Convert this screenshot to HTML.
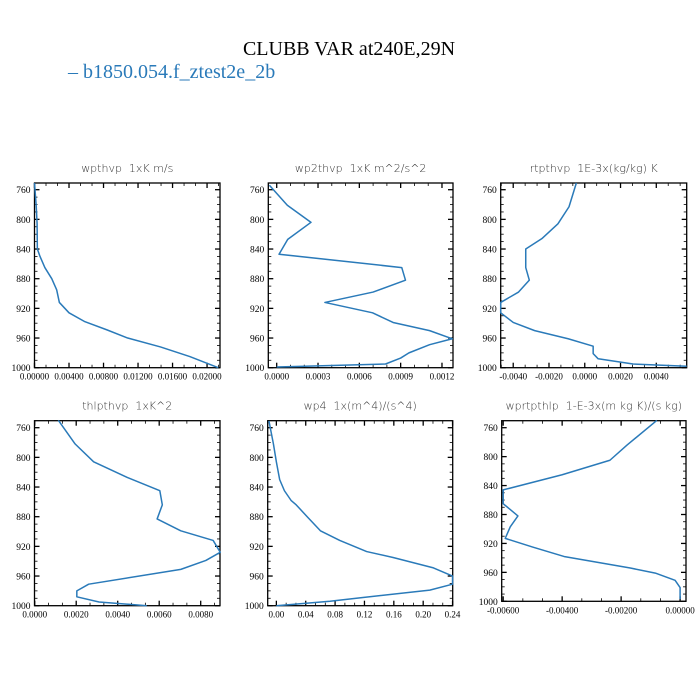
<!DOCTYPE html>
<html><head><meta charset="utf-8"><style>
html,body{margin:0;padding:0;background:#fff;}
svg{display:block;}
</style></head><body>
<svg id="chart" width="700" height="700" viewBox="0 0 700 700" xmlns="http://www.w3.org/2000/svg">
<rect x="0" y="0" width="700" height="700" fill="#fff"/>
<text x="349" y="55" text-anchor="middle" font-family="Liberation Serif, serif" font-size="20" fill="#000">CLUBB VAR at240E,29N</text>
<text x="68" y="78" font-family="Liberation Serif, serif" font-size="20" fill="#2a7ab9">– b1850.054.f_ztest2e_2b</text>
<g id="panels"></g>
</svg>
<script>
// ---- data ----
const p1 = [751, 782, 806, 840, 850, 865, 880, 895, 912, 926, 938, 949, 960, 972, 985, 1000];
const v1 = [0, 0.0002, 0.0003, 0.00033, 0.00064, 0.0012, 0.002, 0.00257, 0.00288, 0.004, 0.00585, 0.0084, 0.0108, 0.0146, 0.018, 0.0213];
const p2 = [754, 781, 804, 827, 847, 865, 882, 898, 912, 926, 939, 950, 961, 969, 980, 987, 995, 999];
const v2 = [-0.000053, 0.000077, 0.000249, 0.00008, 0.000017, 0.000908, 0.000935, 0.0007, 0.00035, 0.000696, 0.000845, 0.00111, 0.001275, 0.00111, 0.00096, 0.0009, 0.00079, 0.0];
const p3 = [751, 783, 806, 826, 840, 865, 882, 898, 912, 926, 939, 950, 961, 971, 981, 988, 995, 998];
const v3 = [-0.00047, -0.00088, -0.0015, -0.0024, -0.0033, -0.0033, -0.0031, -0.0037, -0.0047, -0.0047, -0.004, -0.0028, -0.00093, 0.00047, 0.00047, 0.00075, 0.0027, 0.0057];
const p4 = [750, 782, 806, 827, 845, 864, 883, 899, 912, 928, 939, 951, 971, 980, 988, 995, 1000];
const v4 = [0.00114, 0.00195, 0.00284, 0.00446, 0.00603, 0.00615, 0.0059, 0.00704, 0.0086, 0.00894, 0.00825, 0.00704, 0.0026, 0.00203, 0.00203, 0.0031, 0.0054];
const p5 = [751, 782, 806, 830, 845, 858, 864, 880, 899, 912, 927, 935, 949, 960, 971, 979, 989, 994, 1000];
const v5 = [-0.0101, -0.004, 0.0, 0.0045, 0.011, 0.02, 0.027, 0.042, 0.06, 0.0864, 0.123, 0.159, 0.214, 0.24, 0.24, 0.209, 0.118, 0.073, 0.0];
const p6 = [750, 784, 805, 825, 846, 865, 882, 897, 913, 925, 938, 954, 961, 971, 981, 997];
const v6 = [-0.00079, -0.0018, -0.00238, -0.004, -0.006, -0.006, -0.0055, -0.00576, -0.00593, -0.005, -0.00394, -0.00169, -0.00084, -0.00017, 0.0, 0.0];
const xt1 = ["0.00000","0.00400","0.00800","0.01200","0.01600","0.02000"];
const xt2 = ["0.0000","0.0003","0.0006","0.0009","0.0012"];
const xt3 = ["-0.0040","-0.0020","0.0000","0.0020","0.0040"];
const xt4 = ["0.0000","0.0020","0.0040","0.0060","0.0080"];
const xt5 = ["0.00","0.04","0.08","0.12","0.16","0.20","0.24"];
const xt6 = ["-0.00600","-0.00400","-0.00200","0.00000"];
const yTicks = [760, 800, 840, 880, 920, 960, 1000];

const panels = [
 {name:"wpthvp", title:"wpthvp  1xK m/s", p:p1, v:v1, xt:xt1, L:34.5, R:220, T:183, y760:189.7, y1000:367.7, xmin:0, xmax:0.0215},
 {name:"wp2thvp", title:"wp2thvp  1xK m^2/s^2", p:p2, v:v2, xt:xt2, L:268.3, R:453, T:183, y760:189.7, y1000:367.7, xmin:-0.000061, xmax:0.00128},
 {name:"rtpthvp", title:"rtpthvp  1E-3x(kg/kg) K", p:p3, v:v3, xt:xt3, L:500.7, R:686.7, T:183, y760:189.7, y1000:367.7, xmin:-0.0047, xmax:0.0057},
 {name:"thlpthvp", title:"thlpthvp  1xK^2", p:p4, v:v4, xt:xt4, L:34.5, R:220, T:420.7, y760:427.7, y1000:605.7, xmin:-0.00001, xmax:0.00893},
 {name:"wp4", title:"wp4  1x(m^4)/(s^4)", p:p5, v:v5, xt:xt5, L:267.7, R:452.7, T:420.7, y760:427.7, y1000:605.7, xmin:-0.0118, xmax:0.2402},
 {name:"wprtpthlp", title:"wprtpthlp  1-E-3x(m kg K)/(s kg)", p:p6, v:v6, xt:xt6, L:501.7, R:686, T:420.7, y760:427.7, y1000:601.3, xmin:-0.00605, xmax:0.0002}
];

const NS = "http://www.w3.org/2000/svg";
const root = document.getElementById("panels");
function mk(tag, attrs, parent){const e=document.createElementNS(NS,tag);for(const k in attrs)e.setAttribute(k,attrs[k]);parent.appendChild(e);return e;}

panels.forEach(pn=>{
  const g = mk("g",{},root);
  
  
  const B = pn.y1000;
  const xs = v => pn.L + (v - pn.xmin)/(pn.xmax - pn.xmin)*(pn.R - pn.L);
  const ys = p => pn.y760 + (p - 760)*(pn.y1000 - pn.y760)/240;
  // title
  const t = mk("text",{x:(pn.L+pn.R)/2, y:pn.T-11, "text-anchor":"middle", "font-family":"DejaVu Sans, sans-serif", "font-size":"11", "font-weight":"200", fill:"#333", "xml:space":"preserve"},g);
  t.textContent = pn.title.replace(/  /g,"\u00a0\u00a0");
  
  
  // box
  const box = mk("rect",{x:pn.L, y:pn.T, width:pn.R-pn.L, height:B-pn.T, fill:"none", stroke:"#000", "stroke-width":"1.3"},g);
  
  
  // y ticks
  for(let p=760; p<=1000; p+=10){
    const y = ys(p); const major = (p%40===0);
    const len = major?5:3;
    mk("line",{x1:pn.L,x2:pn.L+len,y1:y,y2:y,stroke:"#000","stroke-width":major?1.3:0.8},g);
    mk("line",{x1:pn.R,x2:pn.R-len,y1:y,y2:y,stroke:"#000","stroke-width":major?1.3:0.8},g);
  }
  yTicks.forEach(p=>{
    const lab = mk("text",{x:pn.L-4, y:ys(p)+3.5, "text-anchor":"end","font-family":"Liberation Serif, serif","font-size":"9.5",fill:"#000"},g);
    lab.textContent = String(p);
    
    
  });
  // x ticks
  const vals = pn.xt.map(Number);
  const step = vals[1]-vals[0];
  const sub = step/3;
  let start = vals[0];
  while(start - sub >= pn.xmin - 1e-12) start -= sub;
  for(let v=start, i=0; v<=pn.xmax+1e-12; v+=sub, i++){
    const x = xs(v);
    const major = vals.some(m=>Math.abs(m-v)<sub*0.1);
    const len = major?5:3;
    mk("line",{x1:x,x2:x,y1:B,y2:B-len,stroke:"#000","stroke-width":major?1.3:0.8},g);
    mk("line",{x1:x,x2:x,y1:pn.T,y2:pn.T+len,stroke:"#000","stroke-width":major?1.3:0.8},g);
  }
  pn.xt.forEach(s=>{
    const lab = mk("text",{x:xs(Number(s)), y:B+12, "text-anchor":"middle","font-family":"Liberation Serif, serif","font-size":"9",fill:"#000"},g);
    lab.textContent = s;
    
    
  });
  // series
  const d = pn.p.map((p,i)=>(i?"L":"M")+xs(pn.v[i]).toFixed(2)+","+ys(p).toFixed(2)).join(" ");
  const line = mk("path",{d:d, fill:"none", stroke:"#2a7ab9","stroke-width":"1.5","stroke-linejoin":"round"},g);
  
  
});
</script>
</body></html>
